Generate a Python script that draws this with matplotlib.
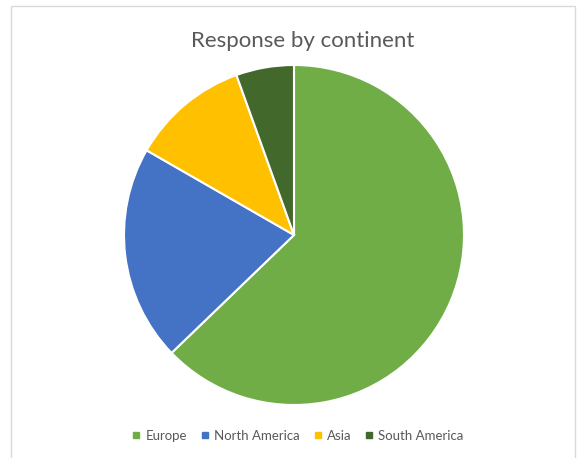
import matplotlib
matplotlib.use("Agg")
import matplotlib.pyplot as plt
from matplotlib.lines import Line2D
from matplotlib.patches import Rectangle

# Share of responses per continent (percent)
continents = ["Europe", "North America", "Asia", "South America"]
shares = [62.8, 20.5, 11.2, 5.5]
colors = ["#70AD47", "#4472C4", "#FFC000", "#43682B"]
title = "Response by continent"

W, H = 577, 458
fig = plt.figure(figsize=(W / 100, H / 100), dpi=100)
fig.patch.set_facecolor("white")
plt.rcParams["font.family"] = ["Lato", "DejaVu Sans"]

# chart-area frame
fig.add_artist(Rectangle((11 / W, -0.01), (575 - 11) / W, 1.01 - 6 / H,
                         transform=fig.transFigure, fill=False,
                         edgecolor="#D9D9D9", linewidth=1.0))

cx, cy, r = 294, 235, 170
ax = fig.add_axes([(cx - r) / W, (H - cy - r) / H, 2 * r / W, 2 * r / H])
ax.pie(shares, colors=colors, startangle=90, counterclock=False, radius=1,
       wedgeprops=dict(edgecolor="white", linewidth=1.5))
ax.set_xlim(-1, 1)
ax.set_ylim(-1, 1)
ax.set_aspect("equal")
ax.axis("off")

fig.text(303 / W, 1 - 41 / H, title, ha="center", va="center",
         fontsize=16, color="#595959")

handles = [Line2D([], [], marker="s", linestyle="none", markersize=5,
                  markerfacecolor=c, markeredgecolor=c) for c in colors]
fig.legend(handles, continents, loc="center", bbox_to_anchor=(298 / W, 1 - 436 / H),
           ncol=4, frameon=False, fontsize=9.5, labelcolor="#595959",
           handlelength=0.6, handletextpad=0.4, columnspacing=1.05)

fig.savefig("out.png", dpi=100)
